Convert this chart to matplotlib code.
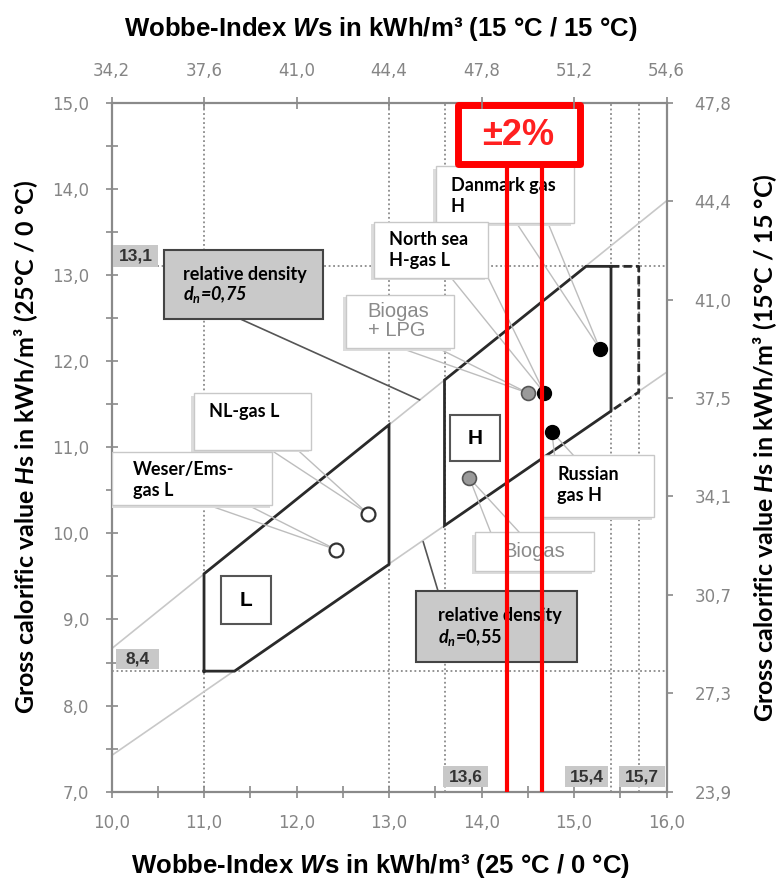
import matplotlib
matplotlib.use("Agg")
import matplotlib.pyplot as plt
from matplotlib.patches import Rectangle
import numpy as np

plt.rcParams['mathtext.fontset'] = 'custom'
plt.rcParams['mathtext.it'] = 'Lato:italic:bold'
plt.rcParams['mathtext.rm'] = 'Lato:bold'
plt.rcParams['mathtext.cal'] = 'Liberation Sans:italic:bold'

# ---------------- data ----------------
x_ticks = [10, 11, 12, 13, 14, 15, 16]
x_tick_labels = ["10,0", "11,0", "12,0", "13,0", "14,0", "15,0", "16,0"]
top_tick_labels = ["34,2", "37,6", "41,0", "44,4", "47,8", "51,2", "54,6"]
y_ticks = [7, 8, 9, 10, 11, 12, 13, 14, 15]
y_tick_labels = ["7,0", "8,0", "9,0", "10,0", "11,0", "12,0", "13,0", "14,0", "15,0"]
right_tick_labels = ["23,9", "27,3", "30,7", "34,1", "37,5", "41,0", "44,4", "47,8"]
right_range = [23.9, 47.8]

# relative density lines (Hs = Ws * sqrt(dn)) endpoints
density_x = [10.0, 16.0]
density_075_y = [8.66, 13.86]
density_055_y = [7.42, 11.87]

# limit lines
limit_ws = [11.0, 13.0, 13.6, 15.4, 15.7]
limit_hs = [13.1, 8.4]

# L-gas area
l_area_ws = [11.0, 11.0, 13.0, 13.0, 11.33, 11.0]
l_area_hs = [8.4, 9.53, 11.26, 9.64, 8.4, 8.4]
# H-gas area (solid part)
h_area_ws = [15.4, 15.13, 13.6, 13.6, 15.4, 15.4]
h_area_hs = [13.1, 13.1, 11.78, 10.09, 11.42, 13.1]
# H-gas extension (dashed)
h_ext_ws = [15.4, 15.7, 15.7, 15.4]
h_ext_hs = [13.1, 13.1, 11.64, 11.42]

# gases
gas_names = ["Weser/Ems-\ngas L", "NL-gas L", "Biogas", "Biogas\n+ LPG",
             "North sea\nH-gas L", "Russian\ngas H", "Danmark gas\nH"]
gas_ws = [12.43, 12.77, 13.87, 14.50, 14.68, 14.76, 15.28]
gas_hs = [9.81, 10.23, 10.64, 11.63, 11.63, 11.18, 12.14]
gas_kind = ["open", "open", "grey", "grey", "black", "black", "black"]

# +-2 % band
band_ws = [14.28, 14.65]

# ---------------- figure ----------------
fig = plt.figure(figsize=(7.81, 8.84), dpi=100)
ax = fig.add_axes([0.1428, 0.1044, 0.7106, 0.7794])
ax.set_xlim(10, 16)
ax.set_ylim(7, 15)

grid_c = '#8a8a8a'
for w in limit_ws:
    ax.axvline(w, color=grid_c, ls=(0, (1, 1.5)), lw=1.3, zorder=1)
for h in limit_hs:
    ax.axhline(h, color=grid_c, ls=(0, (1, 1.5)), lw=1.3, zorder=1)

ax.plot(density_x, density_075_y, color='#c8c8c8', lw=1.2, zorder=2)
ax.plot(density_x, density_055_y, color='#c8c8c8', lw=1.2, zorder=2)

ax.plot(l_area_ws, l_area_hs, color='#2a2a2a', lw=2.0, zorder=3, solid_joinstyle='miter')
ax.plot(h_area_ws, h_area_hs, color='#2a2a2a', lw=2.0, zorder=3, solid_joinstyle='miter')
ax.plot(h_ext_ws, h_ext_hs, color='#2a2a2a', lw=2.0, ls=(0, (3, 1.5)), zorder=3)


def box(x0, y0, x1, y1, fc='white', ec='#c8c8c8', lw=1.0, z=5, shadow=True):
    if shadow:
        ax.add_patch(Rectangle((x0 - 0.03, y0 - 0.03), x1 - x0, y1 - y0, fc='#dcdcdc',
                               ec='none', zorder=z - 0.1))
    ax.add_patch(Rectangle((x0, y0), x1 - x0, y1 - y0, fc=fc, ec=ec, lw=lw, zorder=z))


def leader(base, tip, color='#bdbdbd', lw=1.0):
    for bx, by in base:
        ax.plot([bx, tip[0]], [by, tip[1]], color=color, lw=lw, zorder=4)


lbl_font = dict(family='Lato', weight='bold', fontsize=13, color='black', zorder=6,
                linespacing=1.3)
grey_font = dict(family='Liberation Sans', fontsize=14.5, color='#8a8a8a', zorder=6,
                 linespacing=1.0)

# callout boxes: Danmark
leader([(14.38, 13.60), (14.72, 13.60)], (gas_ws[6], gas_hs[6]))
box(13.51, 13.60, 15.00, 14.26)
ax.text(13.67, 13.92, gas_names[6], ha='left', va='center', **lbl_font)
# North sea
leader([(13.67, 12.97), (14.07, 12.97)], (gas_ws[4], gas_hs[4]))
box(12.84, 12.97, 14.07, 13.62)
ax.text(13.00, 13.29, gas_names[4], ha='left', va='center', **lbl_font)
# Biogas + LPG
leader([(13.13, 12.15), (13.53, 12.15)], (gas_ws[3], gas_hs[3]))
box(12.53, 12.15, 13.70, 12.77)
ax.text(12.77, 12.47, gas_names[3], ha='left', va='center', **grey_font)
# NL-gas L
leader([(11.72, 10.97), (12.01, 10.97)], (gas_ws[1], gas_hs[1]))
box(10.89, 10.97, 12.16, 11.63)
ax.text(11.05, 11.41, gas_names[1], ha='left', va='center', **lbl_font)
# Weser/Ems
leader([(11.04, 10.33), (11.47, 10.33)], (gas_ws[0], gas_hs[0]))
box(10.0, 10.33, 11.74, 10.94)
ax.text(10.23, 10.62, gas_names[0], ha='left', va='center', **lbl_font)
# Russian
leader([(14.79, 10.91), (14.99, 10.91)], (gas_ws[5], gas_hs[5]))
box(14.67, 10.19, 15.87, 10.91)
ax.text(14.82, 10.56, gas_names[5], ha='left', va='center', **lbl_font)
# Biogas
leader([(14.10, 10.01), (14.41, 10.01)], (gas_ws[2], gas_hs[2]))
box(13.93, 9.56, 15.22, 10.01)
ax.text(14.57, 9.79, gas_names[2], ha='center', va='center', **grey_font)

# relative density boxes
ax.plot([11.39, 13.33], [12.49, 11.55], color='#555555', lw=1.2, zorder=4)
box(10.57, 12.49, 12.29, 13.29, fc='#c9c9c9', ec='#444444', lw=1.5, shadow=False)
ax.text(10.77, 13.00, "relative density", ha='left', va='center', **lbl_font)
ax.text(10.77, 12.77, "$d_n$=0,75", ha='left', va='center', style='italic', **lbl_font)

ax.plot([13.53, 13.37], [9.33, 9.90], color='#555555', lw=1.2, zorder=4)
box(13.29, 8.51, 15.03, 9.33, fc='#c9c9c9', ec='#444444', lw=1.5, shadow=False)
ax.text(13.53, 9.05, "relative density", ha='left', va='center', **lbl_font)
ax.text(13.53, 8.79, "$d_n$=0,55", ha='left', va='center', **lbl_font)

# L / H labels
box(11.18, 8.95, 11.72, 9.50, ec='#555555', lw=1.5, shadow=False)
ax.text(11.45, 9.22, "L", ha='center', va='center', family='Liberation Sans',
        weight='bold', fontsize=15, zorder=6)
box(13.66, 10.84, 14.20, 11.37, ec='#555555', lw=1.5, shadow=False)
ax.text(13.93, 11.10, "H", ha='center', va='center', family='Liberation Sans',
        weight='bold', fontsize=15, zorder=6)

# value tags
tag_font = dict(family='Liberation Sans', weight='bold', fontsize=12.5, color='#333333', zorder=6)
for (x0, y0, x1, y1, t) in [(10.02, 13.09, 10.50, 13.35, "13,1"),
                            (10.05, 8.42, 10.51, 8.66, "8,4"),
                            (13.58, 7.05, 14.07, 7.30, "13,6"),
                            (14.90, 7.05, 15.37, 7.30, "15,4"),
                            (15.49, 7.05, 15.98, 7.30, "15,7")]:
    box(x0, y0, x1, y1, fc='#c8c8c8', ec='none', shadow=False)
    ax.text((x0 + x1) / 2, (y0 + y1) / 2, t, ha='center', va='center', **tag_font)

# markers
for w, h, k in zip(gas_ws, gas_hs, gas_kind):
    if k == 'open':
        ax.plot(w, h, 'o', ms=10, mfc='white', mec='#333333', mew=1.6, zorder=7)
    elif k == 'grey':
        ax.plot(w, h, 'o', ms=10, mfc='#9a9a9a', mec='#555555', mew=1.2, zorder=7)
    else:
        ax.plot(w, h, 'o', ms=10, mfc='black', mec='black', zorder=7)

# +-2 % band
for w in band_ws:
    ax.plot([w, w], [7.0, 14.28], color='#ff0000', lw=3, zorder=8, solid_capstyle='butt')
ax.add_patch(Rectangle((13.75, 14.29), 1.31, 0.68, fc='white', ec='#ff0000', lw=5,
                       zorder=8, joinstyle='round', clip_on=False))
ax.text(14.40, 14.62, "±2%", ha='center', va='center', color='#ff2020',
        family='Liberation Sans', weight='bold', fontsize=26, zorder=9)

# ---------------- axes styling ----------------
spine_c = '#8a8a8a'
for s in ax.spines.values():
    s.set_color(spine_c)
    s.set_linewidth(1.6)
tick_font = dict(family='DejaVu Sans', size=12)
ax.set_xticks(x_ticks)
ax.set_xticklabels(x_tick_labels, color='#858585', **tick_font)
ax.set_yticks(y_ticks)
ax.set_yticklabels(y_tick_labels, color='#858585', **tick_font)
ax.set_xticks(np.arange(10.5, 16, 1.0), minor=True)
ax.set_yticks(np.arange(7.5, 15, 1.0), minor=True)
ax.tick_params(which='both', direction='inout', length=8, width=1.2, color=spine_c, pad=12)

axt = ax.twiny()
axt.set_xlim(ax.get_xlim())
axt.set_xticks(x_ticks)
axt.set_xticklabels(top_tick_labels, color='#858585', **tick_font)
axt.tick_params(direction='inout', length=8, width=1.2, color=spine_c, pad=12)

axr = ax.twinx()
axr.set_ylim(right_range)
axr.set_yticks(np.linspace(right_range[0], right_range[1], len(right_tick_labels)))
axr.set_yticklabels(right_tick_labels, color='#858585', **tick_font)
axr.tick_params(direction='out', length=4, width=1.2, color=spine_c, pad=16)
for a in (axt, axr):
    for s in a.spines.values():
        s.set_visible(False)

title_font = dict(family='Liberation Sans', weight='bold', fontsize=18.5, color='black')
fig.text(0.487, 0.967, r"Wobbe-Index $\mathcal{W}$s in kWh/m³ (15 °C / 15 °C)",
         ha='center', va='center', **title_font)
fig.text(0.487, 0.020, r"Wobbe-Index $\mathcal{W}$s in kWh/m³ (25 °C / 0 °C)",
         ha='center', va='center', **title_font)
ylab_font = dict(family='Lato', weight='bold', fontsize=18, color='black')
fig.text(0.034, 0.494, "Gross calorific value $H$s in kWh/m³ (25°C / 0 °C)",
         rotation=90, ha='center', va='center', **ylab_font)
fig.text(0.979, 0.494, "Gross calorific value $H$s in kWh/m³ (15°C / 15 °C)",
         rotation=90, ha='center', va='center', **ylab_font)

fig.savefig("out.png", dpi=100)
